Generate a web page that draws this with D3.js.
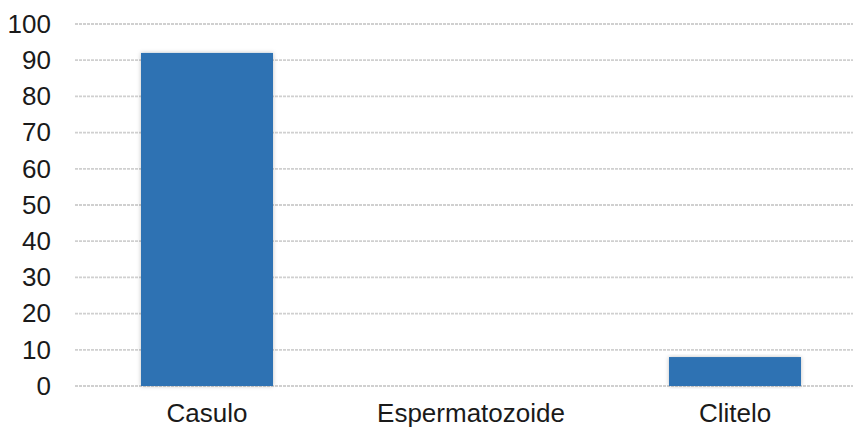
<!DOCTYPE html>
<html>
<head>
<meta charset="utf-8">
<script src="https://cdn.jsdelivr.net/npm/d3@7"></script>
<style>
  body { margin: 0; background: #fff; }
  text { font-family: "Liberation Sans", Arial, sans-serif; fill: #1a1a1a; }
</style>
</head>
<body>
<svg id="vis-svg"></svg>
<script>
const categories = ["Casulo", "Espermatozoide", "Clitelo"];
const values = [92, 0, 8];
const yTicks = [0, 10, 20, 30, 40, 50, 60, 70, 80, 90, 100];

const width = 853, height = 430;
const margin = { top: 24, left: 75, bottom: 44 };

const svg = d3.select("#vis-svg")
    .attr("width", width)
    .attr("height", height);

// soft shadow behind bars
const defs = svg.append("defs");
const f = defs.append("filter").attr("id", "shadow")
    .attr("x", "-10%").attr("y", "-10%").attr("width", "120%").attr("height", "120%");
f.append("feDropShadow")
    .attr("dx", 0).attr("dy", 0)
    .attr("stdDeviation", 2)
    .attr("flood-color", "#000")
    .attr("flood-opacity", 0.25);

const x = d3.scaleBand()
    .domain(categories)
    .range([margin.left, margin.left + 264 * 3])
    .paddingInner(0.5)
    .paddingOuter(0.25);

const y = d3.scaleLinear()
    .domain([0, 100])
    .range([height - margin.bottom, margin.top]);

// gridlines
svg.append("g")
    .selectAll("line")
    .data(yTicks)
    .enter().append("line")
    .attr("x1", margin.left)
    .attr("x2", width)
    .attr("y1", d => y(d))
    .attr("y2", d => y(d))
    .attr("stroke", "#d0d0d0")
    .attr("stroke-width", 1.8)
    .attr("stroke-dasharray", "3,1");

// y axis labels
const yAxis = svg.append("g")
    .attr("transform", "translate(" + margin.left + ",0)")
    .call(d3.axisLeft(y).tickValues(yTicks).tickSize(0).tickPadding(24));
yAxis.select(".domain").remove();
yAxis.selectAll("text")
    .style("font-size", "26px")
    .attr("fill", "#1a1a1a");

// bars
svg.append("g")
    .selectAll("rect")
    .data(values)
    .enter().append("rect")
    .attr("x", (d, i) => x(categories[i]))
    .attr("y", d => y(d))
    .attr("width", x.bandwidth())
    .attr("height", d => y(0) - y(d))
    .attr("fill", "#2E72B3")
    .attr("filter", d => d > 0 ? "url(#shadow)" : null);

// x axis labels
const xAxis = svg.append("g")
    .attr("transform", "translate(0," + y(0) + ")")
    .call(d3.axisBottom(x).tickSize(0).tickPadding(18));
xAxis.select(".domain").remove();
xAxis.selectAll("text")
    .style("font-size", "26px")
    .attr("fill", "#1a1a1a");
</script>
</body>
</html>
